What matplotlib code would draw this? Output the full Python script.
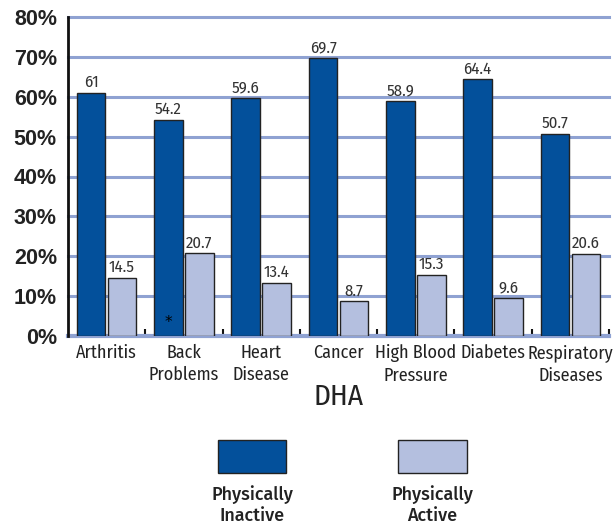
import matplotlib
matplotlib.use("Agg")
import matplotlib.pyplot as plt
from matplotlib.patches import Rectangle
import numpy as np

categories = ["Arthritis", "Back\nProblems", "Heart\nDisease", "Cancer",
              "High Blood\nPressure", "Diabetes", "Respiratory\nDiseases"]
inactive = [61, 54.2, 59.6, 69.7, 58.9, 64.4, 50.7]
active = [14.5, 20.7, 13.4, 8.7, 15.3, 9.6, 20.6]
y_ticks = [0, 10, 20, 30, 40, 50, 60, 70, 80]
y_tick_labels = [f"{v}%" for v in y_ticks]
series_names = ["Physically\nInactive", "Physically\nActive"]

DARK = "#03509b"
LIGHT = "#b4bfdf"
GRID = "#8fa2d2"
TEXT = "#222222"

NARROW = ["Fira Sans Condensed", "DejaVu Sans"]
WIDE = ["Liberation Sans", "DejaVu Sans"]
LEG = ["Fira Sans", "DejaVu Sans"]

fig = plt.figure(figsize=(6.13, 5.27), dpi=100)
ax = fig.add_axes([68 / 613, 1 - 336 / 527, (609 - 68) / 613, (336 - 17) / 527])

x = np.arange(len(categories))
w = 0.37
off = 0.2
ax.bar(x - off, inactive, w, color=DARK, edgecolor="#222222", linewidth=1, zorder=3)
ax.bar(x + off, active, w, color=LIGHT, edgecolor="#222222", linewidth=1, zorder=3)

for xi, v in zip(x, inactive):
    ax.text(xi - off, v + 0.6, f"{v:g}", ha="center", va="bottom",
            fontsize=12, family=NARROW, color="#333333", zorder=4)
for xi, v in zip(x, active):
    ax.text(xi + off, v + 0.6, f"{v:g}", ha="center", va="bottom",
            fontsize=12, family=NARROW, color="#333333", zorder=4)

# footnote marker on the Back Problems bar
ax.text(1 - off, 3.5, "*", ha="center", va="center", fontsize=11,
        color="black", zorder=5)

ax.set_xlim(-0.5, len(categories) - 0.5)
ax.set_ylim(0, 80)

for v in y_ticks[1:]:
    ax.axhline(v, color=GRID, linewidth=2.2, zorder=1, clip_on=False)
ax.axhline(0, color=GRID, linewidth=3, zorder=2, clip_on=False)

for s in ["top", "right", "bottom"]:
    ax.spines[s].set_visible(False)
ax.spines["left"].set_linewidth(2)
ax.spines["left"].set_color("#111111")
ax.spines["left"].set_zorder(5)

ax.set_yticks(y_ticks)
ax.set_yticklabels(y_tick_labels, fontsize=15.5, fontweight="bold",
                   family=WIDE, color=TEXT)
ax.tick_params(axis="y", length=0, pad=8)

ax.set_xticks(x)
ax.set_xticklabels(categories, fontsize=13, family=NARROW, color=TEXT,
                   linespacing=1.3)
ax.tick_params(axis="x", which="major", length=0, pad=6)
ax.set_xticks(np.append(x[1:] - 0.5, len(categories) - 0.5), minor=True)
ax.tick_params(axis="x", which="minor", direction="in", length=5,
               width=1.5, color="#111111")
for t in ax.xaxis.get_minorticklines():
    t.set_zorder(6)

fig.text(339 / 613, 1 - 397 / 527, "DHA", ha="center", va="center",
         fontsize=21, family=NARROW, color=TEXT)

# legend drawn as figure-level swatches with centered captions
for (x0, x1), color, label in [((218, 286), DARK, series_names[0]),
                               ((398, 467), LIGHT, series_names[1])]:
    fig.patches.append(Rectangle((x0 / 613, 1 - 473 / 527), (x1 - x0) / 613,
                                 33 / 527, transform=fig.transFigure,
                                 facecolor=color, edgecolor="#222222",
                                 linewidth=1))
    fig.text((x0 + x1) / 2 / 613, 1 - 505 / 527, label, ha="center",
             va="center", fontsize=13, family=LEG, fontweight="medium",
             color=TEXT, linespacing=1.25)

fig.savefig("out.png", dpi=100)
